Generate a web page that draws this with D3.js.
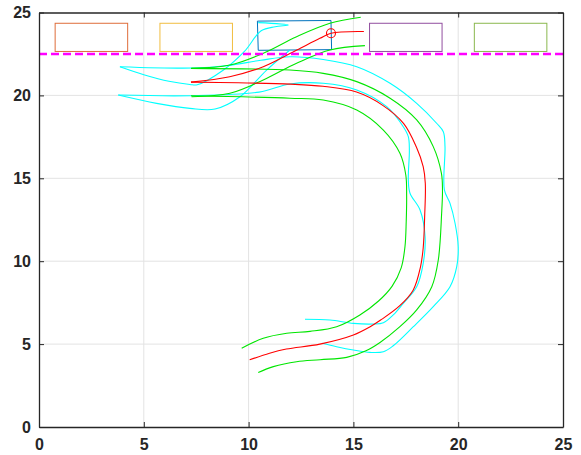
<!DOCTYPE html>
<html>
<head>
<meta charset="utf-8">
<script src="https://cdn.jsdelivr.net/npm/d3@7"></script>
<style>
  body { margin: 0; background: #fff; }
  text { font-family: "Liberation Sans", Arial, sans-serif; font-weight: bold; }
</style>
</head>
<body>
<div id="chart"></div>
<script>
// axis ticks
var xTicks = [0, 5, 10, 15, 20, 25];
var yTicks = [0, 5, 10, 15, 20, 25];

// parking spots (center x), all at the same row
var spotCenters = [2.5, 7.5, 17.5, 22.5];
var spotColors = ["#D95319", "#EDB120", "#7E2F8E", "#77AC30"];
var targetSpot = [[10.42, 24.48], [13.93, 24.52], [13.96, 22.76], [10.46, 22.72]];
var boundaryY = 22.5;

// rear axle path (red)
var redForward = [[10.05, 4.05], [11.0, 4.45], [11.8, 4.7], [13.4, 5.0], [15.0, 5.55], [15.8, 6.05], [16.3, 6.45],
  [17.2, 7.3], [17.85, 8.25], [18.2, 9.65], [18.33, 10.8], [18.4, 12.7], [18.43, 14.7], [18.33, 15.7], [18.0, 16.9],
  [17.4, 18.3], [16.4, 19.4], [15.15, 20.2], [13.55, 20.55], [12.0, 20.68], [9.5, 20.76], [7.25, 20.8]];
var redReverse = [[7.25, 20.8], [9.1, 21.13], [10.7, 21.73], [12.3, 22.74], [13.4, 23.44], [13.93, 23.75], [15.5, 23.85]];
var finalPose = [13.93, 23.75];

// wheel tracks (green)
var greenInner = [[9.67, 4.75], [10.7, 5.35], [11.82, 5.65], [12.93, 5.77], [14.2, 6.05], [15.31, 6.76], [16.2, 7.6],
  [16.85, 8.5], [17.28, 9.6], [17.46, 10.87], [17.52, 12.4], [17.54, 13.9], [17.5, 15.2], [17.22, 16.51], [16.43, 17.91],
  [15.16, 19.12], [13.56, 19.72], [11.97, 19.83], [7.25, 19.98]];
var greenOuter = [[10.46, 3.28], [11.18, 3.64], [12.29, 3.94], [13.41, 4.06], [14.68, 4.2], [15.6, 4.6], [16.27, 5.1],
  [17.22, 6.05], [18.02, 7.06], [18.74, 8.46], [19.05, 10.07], [19.21, 12.89], [19.25, 14.3], [19.2, 15.3],
  [18.81, 16.91], [18.02, 18.52], [16.75, 19.83], [15.16, 20.83], [13.56, 21.33], [11.97, 21.53], [7.25, 21.63]];
var greenUpperRev = [[7.28, 21.63], [9.11, 21.83], [10.7, 22.54], [12.29, 23.54], [13.88, 24.35], [15.35, 24.71]];
var greenLowerRev = [[7.28, 19.92], [9.11, 20.13], [10.7, 20.93], [12.29, 21.94], [13.88, 22.74], [15.55, 23.0]];

// body corner paths (cyan)
var cyanOuter = [[13.5, 5.05], [14.2, 4.84], [15.0, 4.64], [15.79, 4.5], [16.43, 4.54], [16.9, 4.9], [17.86, 6.05],
  [18.81, 7.26], [19.61, 8.46], [19.93, 9.67], [20.0, 10.87], [19.85, 12.29], [19.61, 13.49], [19.34, 14.3],
  [19.37, 16.91], [19.29, 17.81], [18.97, 18.32], [18.02, 19.52], [16.75, 20.73], [15.16, 21.73], [13.56, 22.17],
  [11.97, 22.33], [10.58, 22.12], [9.0, 21.8], [7.38, 21.65], [3.86, 21.73]];
var cyanInner = [[12.69, 6.5], [13.88, 6.45], [15.0, 6.25], [15.95, 6.21], [16.43, 6.29], [16.9, 6.76], [17.38, 7.46],
  [18.02, 8.46], [18.33, 9.87], [18.42, 11.48], [18.18, 13.09], [17.7, 14.1], [17.62, 14.9], [17.67, 16.71],
  [17.62, 17.51], [17.38, 18.11], [16.59, 19.32], [15.16, 20.33], [13.56, 20.73], [11.97, 20.69], [10.5, 20.2],
  [7.25, 19.98], [3.78, 20.02]];
var cyanUpperRev = [[3.86, 21.73], [5.0, 21.25], [6.2, 20.85], [7.2, 20.66], [7.55, 20.64], [8.8, 21.53], [9.8, 22.65],
  [10.6, 23.9], [11.27, 24.14], [11.89, 24.25], [10.46, 24.39]];
var cyanLowerRev = [[3.78, 20.02], [5.61, 19.52], [7.2, 19.22], [8.4, 19.18], [9.59, 19.92], [10.86, 21.53], [11.97, 22.74]];

var width = 581;
var height = 455;
var margin = { top: 12.5, right: 18, bottom: 28, left: 39 };

var x = d3.scaleLinear().domain([0, 25]).range([margin.left, width - margin.right]);
var y = d3.scaleLinear().domain([0, 25]).range([height - margin.bottom, margin.top]);

var svg = d3.select("#chart")
    .append("svg")
    .attr("width", width)
    .attr("height", height);

// grid
svg.append("g")
    .selectAll("line.gx")
    .data(xTicks.slice(1, -1))
    .enter()
    .append("line")
    .attr("x1", function (d) { return x(d); })
    .attr("x2", function (d) { return x(d); })
    .attr("y1", y(0))
    .attr("y2", y(25))
    .attr("stroke", "#e3e3e3");
svg.append("g")
    .selectAll("line.gy")
    .data(yTicks.slice(1, -1))
    .enter()
    .append("line")
    .attr("y1", function (d) { return y(d); })
    .attr("y2", function (d) { return y(d); })
    .attr("x1", x(0))
    .attr("x2", x(25))
    .attr("stroke", "#e3e3e3");

var plot = svg.append("g");

// parking spots
plot.selectAll("rect.spot")
    .data(spotCenters)
    .enter()
    .append("rect")
    .attr("class", "spot")
    .attr("x", function (d) { return x(d - 1.73); })
    .attr("y", y(24.35))
    .attr("width", x(3.46) - x(0))
    .attr("height", y(22.65) - y(24.35))
    .attr("fill", "none")
    .attr("stroke", function (d, i) { return spotColors[i]; })
    .attr("stroke-opacity", 0.85);

plot.append("polygon")
    .attr("points", targetSpot.map(function (p) { return x(p[0]) + "," + y(p[1]); }).join(" "))
    .attr("fill", "none")
    .attr("stroke", "#0072BD");

var line = d3.line()
    .x(function (d) { return x(d[0]); })
    .y(function (d) { return y(d[1]); })
    .curve(d3.curveCatmullRom.alpha(0.5));

function drawPath(pts, color) {
    plot.append("path")
        .attr("d", line(pts))
        .attr("fill", "none")
        .attr("stroke", color)
        .attr("stroke-width", 1.1);
}

drawPath(cyanOuter, "#00FFFF");
drawPath(cyanInner, "#00FFFF");
drawPath(cyanUpperRev, "#00FFFF");
drawPath(cyanLowerRev, "#00FFFF");
drawPath(greenInner, "#00E600");
drawPath(greenOuter, "#00E600");
drawPath(greenUpperRev, "#00E600");
drawPath(greenLowerRev, "#00E600");
drawPath(redForward, "#FF0000");
drawPath(redReverse, "#FF0000");

plot.append("circle")
    .attr("cx", x(finalPose[0]))
    .attr("cy", y(finalPose[1]))
    .attr("r", 4.5)
    .attr("fill", "none")
    .attr("stroke", "#FF0000")
    .attr("stroke-width", 1.1);

// boundary line
plot.append("line")
    .attr("x1", x(0))
    .attr("x2", x(25))
    .attr("y1", y(boundaryY))
    .attr("y2", y(boundaryY))
    .attr("stroke", "#FF00FF")
    .attr("stroke-width", 2.5)
    .attr("stroke-dasharray", "8,4");

// axes box and ticks
var axisColor = "#262626";
svg.append("g")
    .attr("transform", "translate(0," + y(0) + ")")
    .call(d3.axisBottom(x).tickValues(xTicks).tickSizeInner(-5).tickSizeOuter(0).tickPadding(12))
    .call(function (g) {
        g.select(".domain").attr("stroke", axisColor).attr("stroke-width", 1.3);
        g.selectAll(".tick line").attr("stroke", axisColor);
        g.selectAll("text").attr("fill", "#262626").style("font-size", "16px").style("font-weight", "bold");
    });
svg.append("g")
    .attr("transform", "translate(" + x(0) + ",0)")
    .call(d3.axisLeft(y).tickValues(yTicks).tickSizeInner(-5).tickSizeOuter(0).tickPadding(8))
    .call(function (g) {
        g.select(".domain").attr("stroke", axisColor).attr("stroke-width", 1.3);
        g.selectAll(".tick line").attr("stroke", axisColor);
        g.selectAll("text").attr("fill", "#262626").style("font-size", "16px").style("font-weight", "bold");
    });
svg.append("g")
    .attr("transform", "translate(0," + y(25) + ")")
    .call(d3.axisTop(x).tickValues(xTicks).tickSizeInner(-5).tickSizeOuter(0).tickFormat(""))
    .call(function (g) {
        g.select(".domain").attr("stroke", axisColor).attr("stroke-width", 1.3);
        g.selectAll(".tick line").attr("stroke", axisColor);
    });
svg.append("g")
    .attr("transform", "translate(" + x(25) + ",0)")
    .call(d3.axisRight(y).tickValues(yTicks).tickSizeInner(-5).tickSizeOuter(0).tickFormat(""))
    .call(function (g) {
        g.select(".domain").attr("stroke", axisColor).attr("stroke-width", 1.3);
        g.selectAll(".tick line").attr("stroke", axisColor);
    });
</script>
</body>
</html>
